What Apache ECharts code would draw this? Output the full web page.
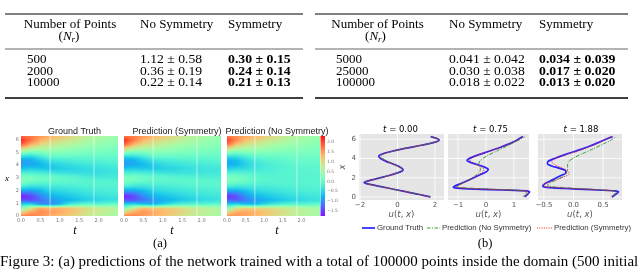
<!DOCTYPE html>
<html><head><meta charset="utf-8">
<script src="https://cdn.jsdelivr.net/npm/echarts@6/dist/echarts.min.js"></script>
<style>html,body{margin:0;padding:0;background:#fff}#c{width:640px;height:275px}</style>
</head><body><div id="c"></div>
<script>
// ---------------- data ----------------
const tableLeftRows = [
  ['500', '1.12 \u00b1 0.58', '0.30 \u00b1 0.15'],
  ['2000', '0.36 \u00b1 0.19', '0.24 \u00b1 0.14'],
  ['10000', '0.22 \u00b1 0.14', '0.21 \u00b1 0.13']
];
const tableRightRows = [
  ['5000', '0.041 \u00b1 0.042', '0.034 \u00b1 0.039'],
  ['25000', '0.030 \u00b1 0.038', '0.017 \u00b1 0.020'],
  ['100000', '0.018 \u00b1 0.022', '0.013 \u00b1 0.020']
];
const heatTitles = ['Ground Truth', 'Prediction (Symmetry)', 'Prediction (No Symmetry)'];
const heatT = [0, 0.25, 0.5, 0.75, 1.0, 1.25, 1.5, 1.75, 2.0, 2.25, 2.5];
const heatX = [0, 0.314, 0.628, 0.942, 1.257, 1.571, 1.885, 2.199, 2.513, 2.827, 3.142, 3.456, 3.770, 4.084, 4.398, 4.712, 5.027, 5.341, 5.655, 5.969, 6.283];
const heatTTicks = [0, 0.5, 1.0, 1.5, 2.0];
const heatXTicks = [0, 1, 2, 3, 4, 5, 6];
const colorbarTicks = [-1.5, -1.0, -0.5, 0.0, 0.5, 1.0, 1.5, 2.0];
const sliceTimes = [0.75, 1.88];
// columns: one per heatT, values along heatX
const heatGT = [
  [1.76,1.0,0.22,-0.55,-1.35,-1.7,-1.13,-0.5,0.0,0.3,0.12,-0.27,-0.68,-0.95,-0.9,-0.4,0.35,1.17,1.9,2.2,1.78],
  [1.7,1.45,0.9,-0.5,-1.45,-1.5,-1.1,-0.6,-0.15,0.15,0.12,-0.25,-0.6,-0.88,-0.85,-0.45,0.15,0.8,1.4,1.75,1.72],
  [1.55,1.6,1.45,-1.0,-1.25,-1.1,-0.85,-0.55,-0.2,0.05,0.05,-0.3,-0.65,-0.75,-0.6,-0.25,0.2,0.65,1.05,1.35,1.55],
  [1.39,1.5,1.35,-1.1,-0.97,-0.8,-0.6,-0.4,-0.15,0.05,0.0,-0.35,-0.65,-0.58,-0.35,0.0,0.3,0.6,0.9,1.12,1.36],
  [1.25,1.38,1.35,-0.8,-0.85,-0.7,-0.52,-0.36,-0.15,0.0,-0.08,-0.42,-0.58,-0.47,-0.27,0.02,0.27,0.52,0.76,0.98,1.22],
  [1.1,1.25,1.25,-0.3,-0.75,-0.62,-0.46,-0.32,-0.16,-0.05,-0.14,-0.43,-0.52,-0.4,-0.22,0.02,0.24,0.45,0.66,0.86,1.08],
  [0.95,1.1,1.08,-0.1,-0.64,-0.52,-0.4,-0.27,-0.14,-0.08,-0.2,-0.43,-0.47,-0.35,-0.18,0.02,0.2,0.38,0.56,0.73,0.9],
  [0.8,0.92,0.92,0.0,-0.55,-0.45,-0.33,-0.22,-0.12,-0.12,-0.27,-0.42,-0.42,-0.3,-0.15,0.0,0.16,0.31,0.46,0.6,0.72],
  [0.7,0.82,0.84,-0.1,-0.48,-0.4,-0.29,-0.19,-0.12,-0.15,-0.3,-0.41,-0.38,-0.26,-0.13,0.0,0.14,0.27,0.4,0.51,0.61],
  [0.6,0.72,0.75,0.0,-0.42,-0.35,-0.25,-0.17,-0.12,-0.17,-0.3,-0.37,-0.34,-0.23,-0.11,0.0,0.12,0.23,0.34,0.43,0.51],
  [0.52,0.63,0.66,0.05,-0.37,-0.31,-0.22,-0.15,-0.13,-0.18,-0.29,-0.33,-0.3,-0.2,-0.09,0.0,0.1,0.2,0.29,0.37,0.43]
];
const heatSym = [
  [1.72,1.0,0.22,-0.55,-1.33,-1.67,-1.12,-0.5,0.0,0.28,0.1,-0.28,-0.67,-0.93,-0.88,-0.4,0.35,1.15,1.87,2.15,1.75],
  [1.65,1.4,0.85,-0.45,-1.4,-1.45,-1.05,-0.55,-0.15,0.12,0.1,-0.25,-0.6,-0.85,-0.8,-0.4,0.15,0.78,1.35,1.7,1.68],
  [1.5,1.52,1.3,-0.7,-1.2,-1.05,-0.8,-0.5,-0.2,0.03,0.03,-0.3,-0.62,-0.72,-0.57,-0.22,0.2,0.63,1.02,1.3,1.5],
  [1.35,1.42,1.2,-0.8,-0.95,-0.78,-0.58,-0.38,-0.17,-0.02,-0.05,-0.35,-0.6,-0.55,-0.33,0.0,0.3,0.58,0.87,1.08,1.32],
  [1.2,1.3,1.2,-0.55,-0.82,-0.68,-0.5,-0.34,-0.17,-0.05,-0.1,-0.4,-0.54,-0.45,-0.26,0.02,0.26,0.5,0.73,0.94,1.18],
  [1.05,1.18,1.1,-0.3,-0.72,-0.6,-0.44,-0.3,-0.16,-0.07,-0.15,-0.4,-0.49,-0.38,-0.21,0.02,0.23,0.43,0.63,0.82,1.03],
  [0.9,1.03,0.98,-0.15,-0.62,-0.5,-0.38,-0.25,-0.13,-0.07,-0.18,-0.38,-0.44,-0.33,-0.17,0.02,0.2,0.37,0.54,0.7,0.86],
  [0.76,0.88,0.84,-0.1,-0.54,-0.44,-0.32,-0.2,-0.1,-0.07,-0.2,-0.36,-0.39,-0.28,-0.14,0.02,0.17,0.31,0.45,0.58,0.7],
  [0.66,0.78,0.76,-0.1,-0.47,-0.38,-0.28,-0.17,-0.08,-0.08,-0.21,-0.34,-0.35,-0.25,-0.12,0.02,0.15,0.27,0.39,0.5,0.6],
  [0.57,0.68,0.67,-0.05,-0.41,-0.34,-0.24,-0.15,-0.08,-0.1,-0.22,-0.31,-0.31,-0.22,-0.1,0.02,0.13,0.23,0.33,0.42,0.5],
  [0.5,0.6,0.59,0.0,-0.36,-0.3,-0.21,-0.13,-0.08,-0.11,-0.22,-0.29,-0.28,-0.19,-0.08,0.02,0.11,0.2,0.28,0.36,0.43]
];
const heatNoSym = [
  [1.65,0.98,0.22,-0.55,-1.3,-1.62,-1.1,-0.48,0.0,0.28,0.12,-0.22,-0.58,-0.83,-0.8,-0.38,0.33,1.1,1.8,2.08,1.68],
  [1.55,1.4,0.9,-0.5,-1.35,-1.4,-1.0,-0.5,-0.1,0.15,0.1,-0.18,-0.5,-0.75,-0.7,-0.35,0.15,0.7,1.25,1.6,1.57],
  [1.42,1.42,1.15,-0.7,-1.15,-1.0,-0.75,-0.45,-0.15,0.05,0.03,-0.2,-0.45,-0.55,-0.45,-0.18,0.2,0.6,0.95,1.22,1.42],
  [1.3,1.35,1.05,-0.75,-0.92,-0.75,-0.55,-0.35,-0.15,-0.05,-0.08,-0.2,-0.32,-0.35,-0.25,-0.02,0.28,0.56,0.83,1.05,1.3],
  [1.15,1.22,1.05,-0.5,-0.8,-0.65,-0.48,-0.32,-0.17,-0.1,-0.12,-0.18,-0.25,-0.25,-0.15,0.03,0.25,0.48,0.7,0.92,1.15],
  [1.0,1.1,0.95,-0.3,-0.7,-0.57,-0.42,-0.28,-0.16,-0.12,-0.13,-0.16,-0.2,-0.18,-0.1,0.04,0.22,0.42,0.6,0.8,1.0],
  [0.88,0.96,0.86,-0.15,-0.6,-0.49,-0.36,-0.24,-0.15,-0.12,-0.13,-0.14,-0.15,-0.12,-0.05,0.05,0.2,0.36,0.51,0.68,0.84],
  [0.74,0.82,0.76,-0.1,-0.52,-0.42,-0.31,-0.21,-0.14,-0.12,-0.12,-0.12,-0.1,-0.07,0.0,0.08,0.2,0.32,0.45,0.57,0.69],
  [0.66,0.73,0.67,-0.1,-0.46,-0.37,-0.27,-0.18,-0.13,-0.12,-0.12,-0.11,-0.09,-0.05,0.02,0.09,0.19,0.29,0.39,0.5,0.6],
  [0.57,0.64,0.59,-0.05,-0.4,-0.33,-0.24,-0.16,-0.12,-0.11,-0.11,-0.1,-0.08,-0.04,0.02,0.09,0.17,0.25,0.33,0.42,0.5],
  [0.5,0.56,0.52,0.0,-0.36,-0.29,-0.21,-0.14,-0.11,-0.1,-0.1,-0.09,-0.07,-0.03,0.02,0.08,0.15,0.22,0.29,0.36,0.43]
];
// profile lines: [u, x]
const sliceTitles = ['0.00', '0.75', '1.88'];
const gtT0 = [[1.76,0],[1.05,0.3],[0.3,0.6],[-0.45,0.9],[-1.2,1.2],[-1.65,1.38],[-1.78,1.5],[-1.6,1.65],[-1.1,1.9],[-0.5,2.2],[0.0,2.5],[0.25,2.7],[0.3,2.85],[0.15,3.1],[-0.2,3.4],[-0.6,3.7],[-0.9,4.0],[-1.0,4.25],[-0.85,4.45],[-0.4,4.7],[0.4,5.05],[1.2,5.35],[1.8,5.6],[2.15,5.8],[2.22,5.95],[2.05,6.12],[1.78,6.28]];
const nosymT0 = [[1.74,0],[1.05,0.3],[0.3,0.6],[-0.45,0.9],[-1.2,1.2],[-1.63,1.38],[-1.75,1.5],[-1.58,1.65],[-1.1,1.9],[-0.5,2.2],[0.0,2.5],[0.22,2.7],[0.26,2.85],[0.1,3.1],[-0.2,3.4],[-0.55,3.7],[-0.78,4.0],[-0.85,4.25],[-0.75,4.45],[-0.35,4.7],[0.4,5.05],[1.2,5.35],[1.8,5.6],[2.15,5.8],[2.2,5.95],[2.05,6.12],[1.76,6.28]];
const symT0 = [[1.74,0],[1.05,0.3],[0.3,0.6],[-0.45,0.9],[-1.2,1.2],[-1.65,1.38],[-1.76,1.5],[-1.58,1.65],[-1.1,1.9],[-0.5,2.2],[0.0,2.5],[0.25,2.7],[0.29,2.85],[0.13,3.1],[-0.22,3.4],[-0.6,3.7],[-0.88,4.0],[-0.97,4.25],[-0.83,4.45],[-0.4,4.7],[0.4,5.05],[1.2,5.35],[1.8,5.6],[2.15,5.8],[2.2,5.95],[2.05,6.12],[1.76,6.28]];
const gtT1 = [[1.39,0],[1.48,0.25],[1.56,0.5],[1.45,0.62],[0.6,0.72],[-0.4,0.82],[-1.05,0.92],[-1.17,1.0],[-1.1,1.15],[-0.85,1.45],[-0.55,1.85],[-0.25,2.25],[0.0,2.6],[0.08,2.85],[-0.05,3.1],[-0.35,3.4],[-0.6,3.65],[-0.68,3.8],[-0.6,4.0],[-0.3,4.35],[0.1,4.75],[0.5,5.15],[0.85,5.55],[1.1,5.9],[1.32,6.28]];
const nosymT1 = [[1.32,0],[1.42,0.3],[1.45,0.55],[1.2,0.68],[0.3,0.8],[-0.6,0.92],[-1.05,1.05],[-1.0,1.2],[-0.8,1.5],[-0.55,1.9],[-0.35,2.3],[-0.22,2.65],[-0.2,2.95],[-0.24,3.25],[-0.25,3.55],[-0.16,3.9],[0.05,4.3],[0.4,4.8],[0.75,5.3],[1.05,5.75],[1.3,6.1],[1.38,6.28]];
const symT1 = [[1.37,0],[1.45,0.25],[1.52,0.5],[1.35,0.64],[0.5,0.75],[-0.5,0.86],[-1.02,0.96],[-1.05,1.05],[-0.95,1.25],[-0.72,1.6],[-0.45,2.0],[-0.22,2.4],[-0.08,2.7],[-0.08,2.9],[-0.2,3.15],[-0.42,3.45],[-0.58,3.75],[-0.56,3.95],[-0.35,4.3],[0.05,4.7],[0.45,5.1],[0.82,5.5],[1.1,5.9],[1.33,6.28]];
const gtT2 = [[0.65,0],[0.71,0.25],[0.76,0.5],[0.7,0.62],[0.3,0.75],[-0.15,0.88],[-0.45,1.0],[-0.52,1.15],[-0.48,1.4],[-0.35,1.8],[-0.22,2.2],[-0.13,2.5],[-0.13,2.7],[-0.22,2.95],[-0.36,3.2],[-0.44,3.45],[-0.43,3.7],[-0.32,4.0],[-0.12,4.45],[0.1,4.9],[0.3,5.35],[0.47,5.8],[0.66,6.28]];
const nosymT2 = [[0.66,0],[0.71,0.25],[0.73,0.5],[0.6,0.68],[0.15,0.85],[-0.28,1.02],[-0.44,1.2],[-0.4,1.45],[-0.28,1.8],[-0.17,2.15],[-0.12,2.5],[-0.1,2.9],[-0.1,3.3],[-0.08,3.7],[0.0,4.05],[0.15,4.5],[0.33,5.0],[0.5,5.5],[0.63,5.9],[0.72,6.28]];
const symT2 = [[0.63,0],[0.68,0.25],[0.72,0.5],[0.62,0.66],[0.2,0.8],[-0.25,0.95],[-0.5,1.1],[-0.5,1.3],[-0.35,1.65],[-0.18,2.05],[-0.08,2.35],[-0.08,2.6],[-0.17,2.95],[-0.3,3.3],[-0.37,3.65],[-0.32,3.95],[-0.15,4.35],[0.08,4.8],[0.3,5.3],[0.48,5.8],[0.64,6.28]];
const lineXTicks = [[-2, 0, 2], [-1, 0, 1], [-0.5, 0.0, 0.5]];
const lineYTicks = [0, 2, 4, 6];
const legendNames = ['Ground Truth', 'Prediction (No Symmetry)', 'Prediction (Symmetry)'];

// ---------------- helpers ----------------
const VMIN = -1.75, VMAX = 2.3;
function rainbowColor(v) {
  let s = (v - VMIN) / (VMAX - VMIN);
  s = Math.max(0, Math.min(1, s));
  const cl = c => Math.max(0, Math.min(1, c));
  const w = 0.06;
  const r = cl(Math.abs(2 * s - 0.5)), g = cl(Math.sin(Math.PI * s)), b = cl(Math.cos(Math.PI * s / 2));
  const f = c => Math.round(255 * (c * (1 - w) + w));
  return 'rgb(' + f(r) + ',' + f(g) + ',' + f(b) + ')';
}
const SUB = 4;
const strips = [];
for (let j = 0; j < heatX.length - 1; j++) for (let k = 0; k < SUB; k++) strips.push([j, k]);
function heatRender(panel) {
  return function (params, api) {
    const j = api.value(0), k = api.value(1);
    const xa = heatX[j], xb = heatX[j + 1];
    const lo = xa + (xb - xa) * k / SUB, hi = xa + (xb - xa) * (k + 1) / SUB;
    const fm = (k + 0.5) / SUB;
    const tMax = heatT[heatT.length - 1];
    const stops = heatT.map((t, i) => ({offset: t / tMax, color: rainbowColor(panel[i][j] * (1 - fm) + panel[i][j + 1] * fm)}));
    const p0 = api.coord([0, hi]), p1 = api.coord([tMax, lo]);
    return {type: 'rect', shape: {x: p0[0], y: p0[1] - 0.35, width: p1[0] - p0[0], height: p1[1] - p0[1] + 0.7},
      style: {fill: new echarts.graphic.LinearGradient(0, 0, 1, 0, stops)}};
  };
}
const minus = v => (v < 0 ? '\u2212' + Math.abs(v) : '' + v);
const minus1 = v => (v < 0 ? '\u2212' + Math.abs(v).toFixed(1) : v.toFixed(1));
const SANS = 'DejaVu Sans', ARIAL = 'Liberation Sans', SERIF = 'Liberation Serif';

const heatGrids = [
  {left: 21, top: 136, width: 97, height: 80},
  {left: 124, top: 136, width: 97, height: 80},
  {left: 227, top: 136, width: 93, height: 80}
];
const cbGrid = {left: 320.5, top: 136, width: 4.5, height: 80};
const lineGrids = [
  {left: 359, top: 134, width: 85, height: 66},
  {left: 448, top: 134, width: 81, height: 66},
  {left: 538, top: 134, width: 84, height: 66}
];
const lineXRange = [[-2.05, 2.48], [-1.36, 1.54], [-0.60, 0.82]];
const lineYRange = [-0.32, 6.55];

const grid = [], xAxis = [], yAxis = [], series = [];
const panels = [heatGT, heatSym, heatNoSym];
heatGrids.forEach((g, i) => {
  grid.push(Object.assign({containLabel: false}, g));
  xAxis.push({type: 'value', gridIndex: i, min: 0, max: 2.5, axisLine: {show: false}, axisTick: {show: false}, splitLine: {show: false},
    axisLabel: {customValues: heatTTicks, formatter: v => v.toFixed(1), fontSize: 5, color: '#777', margin: 2, fontFamily: SANS}});
  yAxis.push({type: 'value', gridIndex: i, min: 0, max: 6.283, axisLine: {show: false}, axisTick: {show: false}, splitLine: {show: false},
    axisLabel: {show: i === 0, customValues: heatXTicks, fontSize: 5, color: '#777', margin: 2, fontFamily: SANS}});
  series.push({type: 'custom', xAxisIndex: i, yAxisIndex: i, clip: true, silent: true, data: strips, renderItem: heatRender(panels[i])});
  series.push({type: 'custom', xAxisIndex: i, yAxisIndex: i, clip: true, silent: true, z: 3, data: sliceTimes.map(t => [t, 0]),
    renderItem: (params, api) => {
      const p0 = api.coord([api.value(0), 0]), p1 = api.coord([api.value(0), 6.283]);
      return {type: 'line', shape: {x1: p0[0], y1: p0[1], x2: p1[0], y2: p1[1]}, style: {stroke: 'rgba(255,255,255,0.55)', lineWidth: 1}};
    }});
});
// colorbar
grid.push(cbGrid);
xAxis.push({type: 'value', gridIndex: 3, min: 0, max: 1, show: false});
yAxis.push({type: 'value', gridIndex: 3, position: 'right', min: VMIN, max: VMAX, axisLine: {show: false}, axisTick: {show: false}, splitLine: {show: false},
  axisLabel: {customValues: colorbarTicks, formatter: minus1, fontSize: 4.5, color: '#777', margin: 2, fontFamily: SANS}});
series.push({type: 'custom', xAxisIndex: 3, yAxisIndex: 3, silent: true, data: [[0.5, 0]],
  renderItem: (params, api) => {
    const cs = params.coordSys;
    const stops = [];
    for (let s = 0; s <= 20; s++) stops.push({offset: s / 20, color: rainbowColor(VMIN + (VMAX - VMIN) * s / 20)});
    return {type: 'rect', shape: {x: cs.x, y: cs.y, width: cs.width, height: cs.height}, style: {fill: new echarts.graphic.LinearGradient(0, 1, 0, 0, stops)}};
  }});
// line plots
const lineSets = [[gtT0, nosymT0, symT0], [gtT1, nosymT1, symT1], [gtT2, nosymT2, symT2]];
const lineStyles = [
  {color: '#2424ff', width: 1.7, type: 'solid'},
  {color: '#1f8f1f', width: 0.9, type: [3.5, 1.5, 1, 1.5]},
  {color: '#ff1a1a', width: 1.0, type: [1, 1.3]}
];
lineGrids.forEach((g, i) => {
  const gi = 4 + i;
  grid.push(Object.assign({show: true, backgroundColor: '#e5e5e5', borderWidth: 0}, g));
  xAxis.push({type: 'value', gridIndex: gi, min: lineXRange[i][0], max: lineXRange[i][1], axisLine: {show: false}, axisTick: {show: false}, splitLine: {show: false},
    axisLabel: {customValues: lineXTicks[i], formatter: i === 2 ? minus1 : minus, fontSize: 7, color: '#555', margin: 2, fontFamily: SANS},
    name: '{i|u}({i|t}, {i|x})', nameLocation: 'middle', nameGap: 9,
    nameTextStyle: {fontSize: 8.5, color: '#555', fontFamily: SANS, rich: {i: {fontStyle: 'italic', fontSize: 8.5, color: '#555', fontFamily: SANS}}}});
  yAxis.push({type: 'value', gridIndex: gi, min: lineYRange[0], max: lineYRange[1], axisLine: {show: false}, axisTick: {show: false}, splitLine: {show: false},
    axisLabel: {show: i === 0, customValues: lineYTicks, formatter: minus, fontSize: 7, color: '#555', margin: 3, fontFamily: SANS},
    name: i === 0 ? 'x' : '', nameLocation: 'middle', nameGap: 8, nameRotate: 90,
    nameTextStyle: {fontSize: 8.5, color: '#555', fontStyle: 'italic', fontFamily: SANS}});
  const gridData = lineXTicks[i].map(v => [0, v]).concat(lineYTicks.map(v => [1, v]));
  series.push({type: 'custom', xAxisIndex: gi, yAxisIndex: gi, silent: true, z: 1, data: gridData,
    renderItem: (params, api) => {
      const cs = params.coordSys, ax = api.value(0), v = api.value(1);
      if (ax === 0) {
        const p = api.coord([v, lineYRange[0]]);
        return {type: 'line', shape: {x1: p[0], y1: cs.y, x2: p[0], y2: cs.y + cs.height}, style: {stroke: '#fff', lineWidth: 0.8}};
      }
      const p = api.coord([lineXRange[i][0], v]);
      return {type: 'line', shape: {x1: cs.x, y1: p[1], x2: cs.x + cs.width, y2: p[1]}, style: {stroke: '#fff', lineWidth: 0.8}};
    }});
  lineSets[i].forEach((d, k) => {
    series.push({type: 'line', name: legendNames[k], xAxisIndex: gi, yAxisIndex: gi, data: d, symbol: 'none', smooth: 0.25,
      z: 3 + k, lineStyle: lineStyles[k], itemStyle: {color: lineStyles[k].color}, silent: true});
  });
});

// ---------------- text ----------------
const graphic = [];
function txt(x, y, text, o, sx) {
  o = o || {};
  graphic.push({type: 'text', x: x, y: y, scaleX: sx || 1, silent: true, style: Object.assign({text: text, fill: '#000', fontFamily: SERIF, fontSize: 13, align: 'left', verticalAlign: 'middle'}, o)});
}
function rule(x1, x2, y, w, c, dash) {
  graphic.push({type: 'line', silent: true, shape: {x1: x1, y1: y, x2: x2, y2: y}, style: {stroke: c || '#000', lineWidth: w, lineDash: dash || null}});
}
const nr = '{a|(}{n|N}{s|r}{a|)}';
const nrRich = {a: {fontFamily: SERIF, fontSize: 13}, n: {fontFamily: SERIF, fontSize: 13, fontStyle: 'italic'}, s: {fontFamily: SERIF, fontSize: 9, fontStyle: 'italic', padding: [6, 0, 0, 0]}};
function table(x0, x1, cols, hdrCenter, nrCenter, rows) {
  rule(x0, x1, 14, 1.2); rule(x0, x1, 49, 0.6); rule(x0, x1, 98, 1.5);
  txt(hdrCenter, 25, 'Number of Points', {align: 'center'});
  txt(nrCenter, 37, nr, {align: 'center', rich: nrRich});
  txt(cols[1], 25, 'No Symmetry');
  txt(cols[2], 25, 'Symmetry');
  const ys = [60, 71.5, 83];
  rows.forEach((r, i) => {
    txt(cols[0], ys[i], r[0]);
    txt(cols[1], ys[i], r[1], {}, 1.05);
    txt(cols[2], ys[i], r[2], {fontWeight: 'bold'}, 1.06);
  });
}
table(5, 303, [27, 140, 228], 70, 69, tableLeftRows);
table(315, 628, [336, 449, 539], 377.5, 375.5, tableRightRows);
const heatTitleX = [74.5, 177, 277];
heatTitles.forEach((t, i) => txt(heatTitleX[i], 132, t, {align: 'center', fontFamily: ARIAL, fontSize: 9, fill: '#222'}));
const tLabelX = [75, 172, 277];
tLabelX.forEach(x => txt(x, 231, 't', {align: 'center', fontStyle: 'italic', fontSize: 12}));
txt(7, 179, 'x', {align: 'center', fontStyle: 'italic', fontSize: 9});
const sliceTitleX = [400.5, 490.5, 581];
sliceTitles.forEach((s, i) => txt(sliceTitleX[i], 129.5, '{i|t} = ' + s, {align: 'center', fontFamily: SANS, fontSize: 8.5, fill: '#000',
  rich: {i: {fontStyle: 'italic', fontFamily: SANS, fontSize: 8.5, fill: '#000'}}}));
// legend (drawn in the matplotlib style)
const legendPos = [[362, 375, 377], [427, 440, 442], [537, 552, 554]];
legendPos.forEach((p, k) => {
  const st = lineStyles[k];
  rule(p[0], p[1], 228, st.width, st.color, Array.isArray(st.type) ? st.type : null);
  txt(p[2], 228, legendNames[k], {fontFamily: ARIAL, fontSize: 7.8, fill: '#333'});
});
txt(160, 244, '(a)', {align: 'center', fontSize: 12.5});
txt(485, 244, '(b)', {align: 'center', fontSize: 12.5});
txt(0, 262, 'Figure 3: (a) predictions of the network trained with a total of 100000 points inside the domain (500 initial', {fontSize: 14}, 1.07);

const option = {
  animation: false,
  backgroundColor: '#fff',
  grid: grid, xAxis: xAxis, yAxis: yAxis, series: series, graphic: graphic
};
const chart = echarts.init(document.getElementById('c'), null, {renderer: 'canvas', width: 640, height: 275});
chart.setOption(option);
</script></body></html>
